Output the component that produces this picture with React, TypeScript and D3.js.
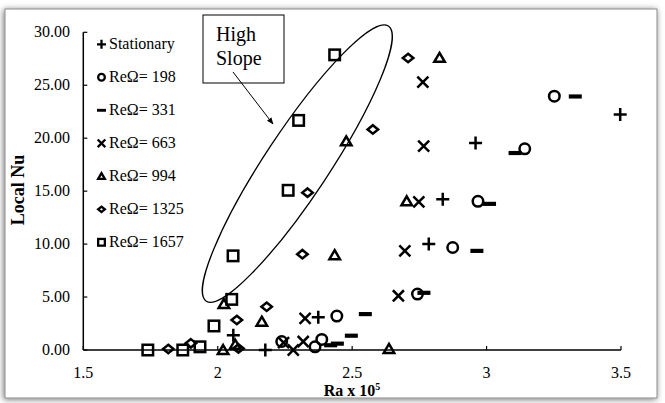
import React from "react";
import * as d3 from "d3";

// Local Nusselt number vs Rayleigh number for several rotation rates
const stationaryRa = [3.497, 2.959, 2.837, 2.785, 2.374, 2.058, 2.177];
const stationaryNu = [22.24, 19.54, 14.23, 10.02, 3.1, 1.4, 0];

const re198Ra = [3.252, 3.142, 2.968, 2.874, 2.743, 2.443, 2.387, 2.362, 2.238];
const re198Nu = [23.97, 19.0, 14.04, 9.68, 5.28, 3.2, 1.0, 0.3, 0.8];

const re331Ra = [3.33, 3.106, 3.011, 2.964, 2.767, 2.549, 2.497, 2.445, 2.42];
const re331Nu = [23.94, 18.6, 13.8, 9.36, 5.4, 3.39, 1.35, 0.6, 0.45];

const re663Ra = [2.763, 2.766, 2.748, 2.696, 2.672, 2.325, 2.318, 2.281, 2.245];
const re663Nu = [25.29, 19.26, 13.98, 9.36, 5.12, 2.98, 0.8, 0, 0.7];

const re994Ra = [2.825, 2.478, 2.703, 2.435, 2.023, 2.164, 2.065, 2.02, 2.637];
const re994Nu = [27.58, 19.7, 14.04, 8.95, 4.34, 2.67, 0.5, 0, 0.1];

const re1325Ra = [2.708, 2.577, 2.334, 2.315, 2.182, 2.071, 2.077, 1.9, 1.816];
const re1325Nu = [27.58, 20.83, 14.86, 9.05, 4.09, 2.83, 0.15, 0.63, 0.1];

const re1657Ra = [2.435, 2.301, 2.262, 2.057, 2.052, 1.986, 1.934, 1.87, 1.74];
const re1657Nu = [27.87, 21.68, 15.08, 8.89, 4.78, 2.27, 0.3, 0, 0];

const xTicks = [1.5, 2, 2.5, 3, 3.5];
const xTickLabels = ["1.5", "2", "2.5", "3", "3.5"];
const yTicks = [0, 5, 10, 15, 20, 25, 30];

type Shape = "plus" | "circle" | "dash" | "cross" | "triangle" | "diamond" | "square";

const seriesList: { name: string; shape: Shape; ra: number[]; nu: number[] }[] = [
  { name: "Stationary", shape: "plus", ra: stationaryRa, nu: stationaryNu },
  { name: "ReΩ= 198", shape: "circle", ra: re198Ra, nu: re198Nu },
  { name: "ReΩ= 331", shape: "dash", ra: re331Ra, nu: re331Nu },
  { name: "ReΩ= 663", shape: "cross", ra: re663Ra, nu: re663Nu },
  { name: "ReΩ= 994", shape: "triangle", ra: re994Ra, nu: re994Nu },
  { name: "ReΩ= 1325", shape: "diamond", ra: re1325Ra, nu: re1325Nu },
  { name: "ReΩ= 1657", shape: "square", ra: re1657Ra, nu: re1657Nu },
];

const W = 665;
const H = 403;
const FONT = "Liberation Serif, Times New Roman, serif";

const x = d3.scaleLinear().domain([1.5, 3.5]).range([83.3, 621]);
const y = d3.scaleLinear().domain([0, 30]).range([350, 32.3]);

function Marker({ shape, cx, cy, s, sw }: { shape: Shape; cx: number; cy: number; s: number; sw: number }) {
  const h = s / 2;
  const common = { fill: "none", stroke: "#000", strokeWidth: sw };
  switch (shape) {
    case "plus":
      return <path d={`M${cx - h},${cy}H${cx + h}M${cx},${cy - h}V${cy + h}`} {...common} />;
    case "cross":
      return (
        <path
          d={`M${cx - h * 0.85},${cy - h * 0.85}L${cx + h * 0.85},${cy + h * 0.85}M${cx - h * 0.85},${cy + h * 0.85}L${cx + h * 0.85},${cy - h * 0.85}`}
          {...common}
        />
      );
    case "circle":
      return <circle cx={cx} cy={cy} r={h - sw / 2} {...common} />;
    case "dash":
      return <rect x={cx - h} y={cy - s * 0.16} width={s} height={s * 0.32} fill="#000" />;
    case "triangle": {
      const hh = h - sw / 2;
      return (
        <path
          d={`M${cx},${cy - hh * 0.95}L${cx + hh},${cy + hh * 0.75}L${cx - hh},${cy + hh * 0.75}Z`}
          {...common}
          strokeLinejoin="miter"
        />
      );
    }
    case "diamond": {
      const hw = h - sw / 2;
      const hv = hw * 0.8;
      return <path d={`M${cx},${cy - hv}L${cx + hw},${cy}L${cx},${cy + hv}L${cx - hw},${cy}Z`} {...common} />;
    }
    case "square": {
      const hs = h - sw / 2;
      return <rect x={cx - hs} y={cy - hs} width={hs * 2} height={hs * 2} {...common} />;
    }
  }
}

// High-slope annotation region, given in data units
const ellipseCenter = { ra: 2.296, nu: 17.6 };

export default function App() {
  const ex = x(ellipseCenter.ra);
  const ey = y(ellipseCenter.nu);
  return (
    <svg
      width={W}
      height={H}
      style={{ position: "absolute", left: 0, top: 0, background: "#fff" }}
      fontFamily={FONT}
    >
      <defs>
        <filter id="frameShadow" x="-5%" y="-5%" width="110%" height="110%">
          <feDropShadow dx="-1" dy="1" stdDeviation="3" floodColor="#000" floodOpacity="0.55" />
        </filter>
        <marker id="arrowHead" viewBox="0 0 10 10" refX="9" refY="5" markerWidth="7" markerHeight="7" orient="auto">
          <path d="M0,1L10,5L0,9Z" fill="#000" />
        </marker>
      </defs>

      {/* chart area */}
      <rect x={5} y={9} width={652} height={389} fill="#fff" stroke="#8a8a8a" strokeWidth={1} filter="url(#frameShadow)" />

      {/* axes */}
      <line x1={x(1.5)} x2={x(1.5)} y1={y(30)} y2={y(0)} stroke="#000" strokeWidth={1.5} />
      <line x1={x(1.5)} x2={x(3.5)} y1={y(0)} y2={y(0)} stroke="#000" strokeWidth={1.5} />
      {yTicks.map((t) => (
        <g key={`y${t}`}>
          <line x1={x(1.5)} x2={x(1.5) + 4} y1={y(t)} y2={y(t)} stroke="#000" strokeWidth={1.2} />
          <text x={70} y={y(t) + 5} textAnchor="end" fontSize={16} fill="#000">
            {t.toFixed(2)}
          </text>
        </g>
      ))}
      {xTicks.map((t, i) => (
        <g key={`x${t}`}>
          <line x1={x(t)} x2={x(t)} y1={y(0)} y2={y(0) - 4} stroke="#000" strokeWidth={1.2} />
          <text x={x(t)} y={378} textAnchor="middle" fontSize={16} fill="#000">
            {xTickLabels[i]}
          </text>
        </g>
      ))}

      {/* axis titles */}
      <text x={352} y={396} textAnchor="middle" fontSize={16} fontWeight="bold" fill="#000">
        Ra x 10<tspan dy={-6} fontSize={10}>5</tspan>
      </text>
      <text transform="translate(24,190) rotate(-90)" textAnchor="middle" fontSize={18} fontWeight="bold" fill="#000">
        Local Nu
      </text>

      {/* annotation */}
      <ellipse
        cx={ex}
        cy={ey}
        rx={165}
        ry={32}
        transform={`rotate(-56.5 ${ex} ${ey})`}
        fill="none"
        stroke="#000"
        strokeWidth={1.3}
      />
      <rect x={203} y={15} width={81} height={68} fill="#fff" stroke="#000" strokeWidth={1} />
      <text x={216} y={41} fontSize={20} fill="#000">High</text>
      <text x={216} y={65} fontSize={20} fill="#000">Slope</text>
      <line x1={233} y1={72} x2={273} y2={124} stroke="#000" strokeWidth={1} markerEnd="url(#arrowHead)" />

      {/* data points */}
      {seriesList.map((s) => (
        <g key={s.name}>
          {s.ra.map((r, i) => (
            <Marker key={i} shape={s.shape} cx={x(r)} cy={y(s.nu[i])} s={13} sw={2.5} />
          ))}
        </g>
      ))}

      {/* legend */}
      {seriesList.map((s, i) => {
        const ly = 44.3 + i * 33;
        return (
          <g key={`lg${s.name}`}>
            <Marker shape={s.shape} cx={101.5} cy={ly} s={9} sw={2.3} />
            <text x={109} y={ly + 5} fontSize={16} fill="#000">
              {s.name}
            </text>
          </g>
        );
      })}
    </svg>
  );
}
